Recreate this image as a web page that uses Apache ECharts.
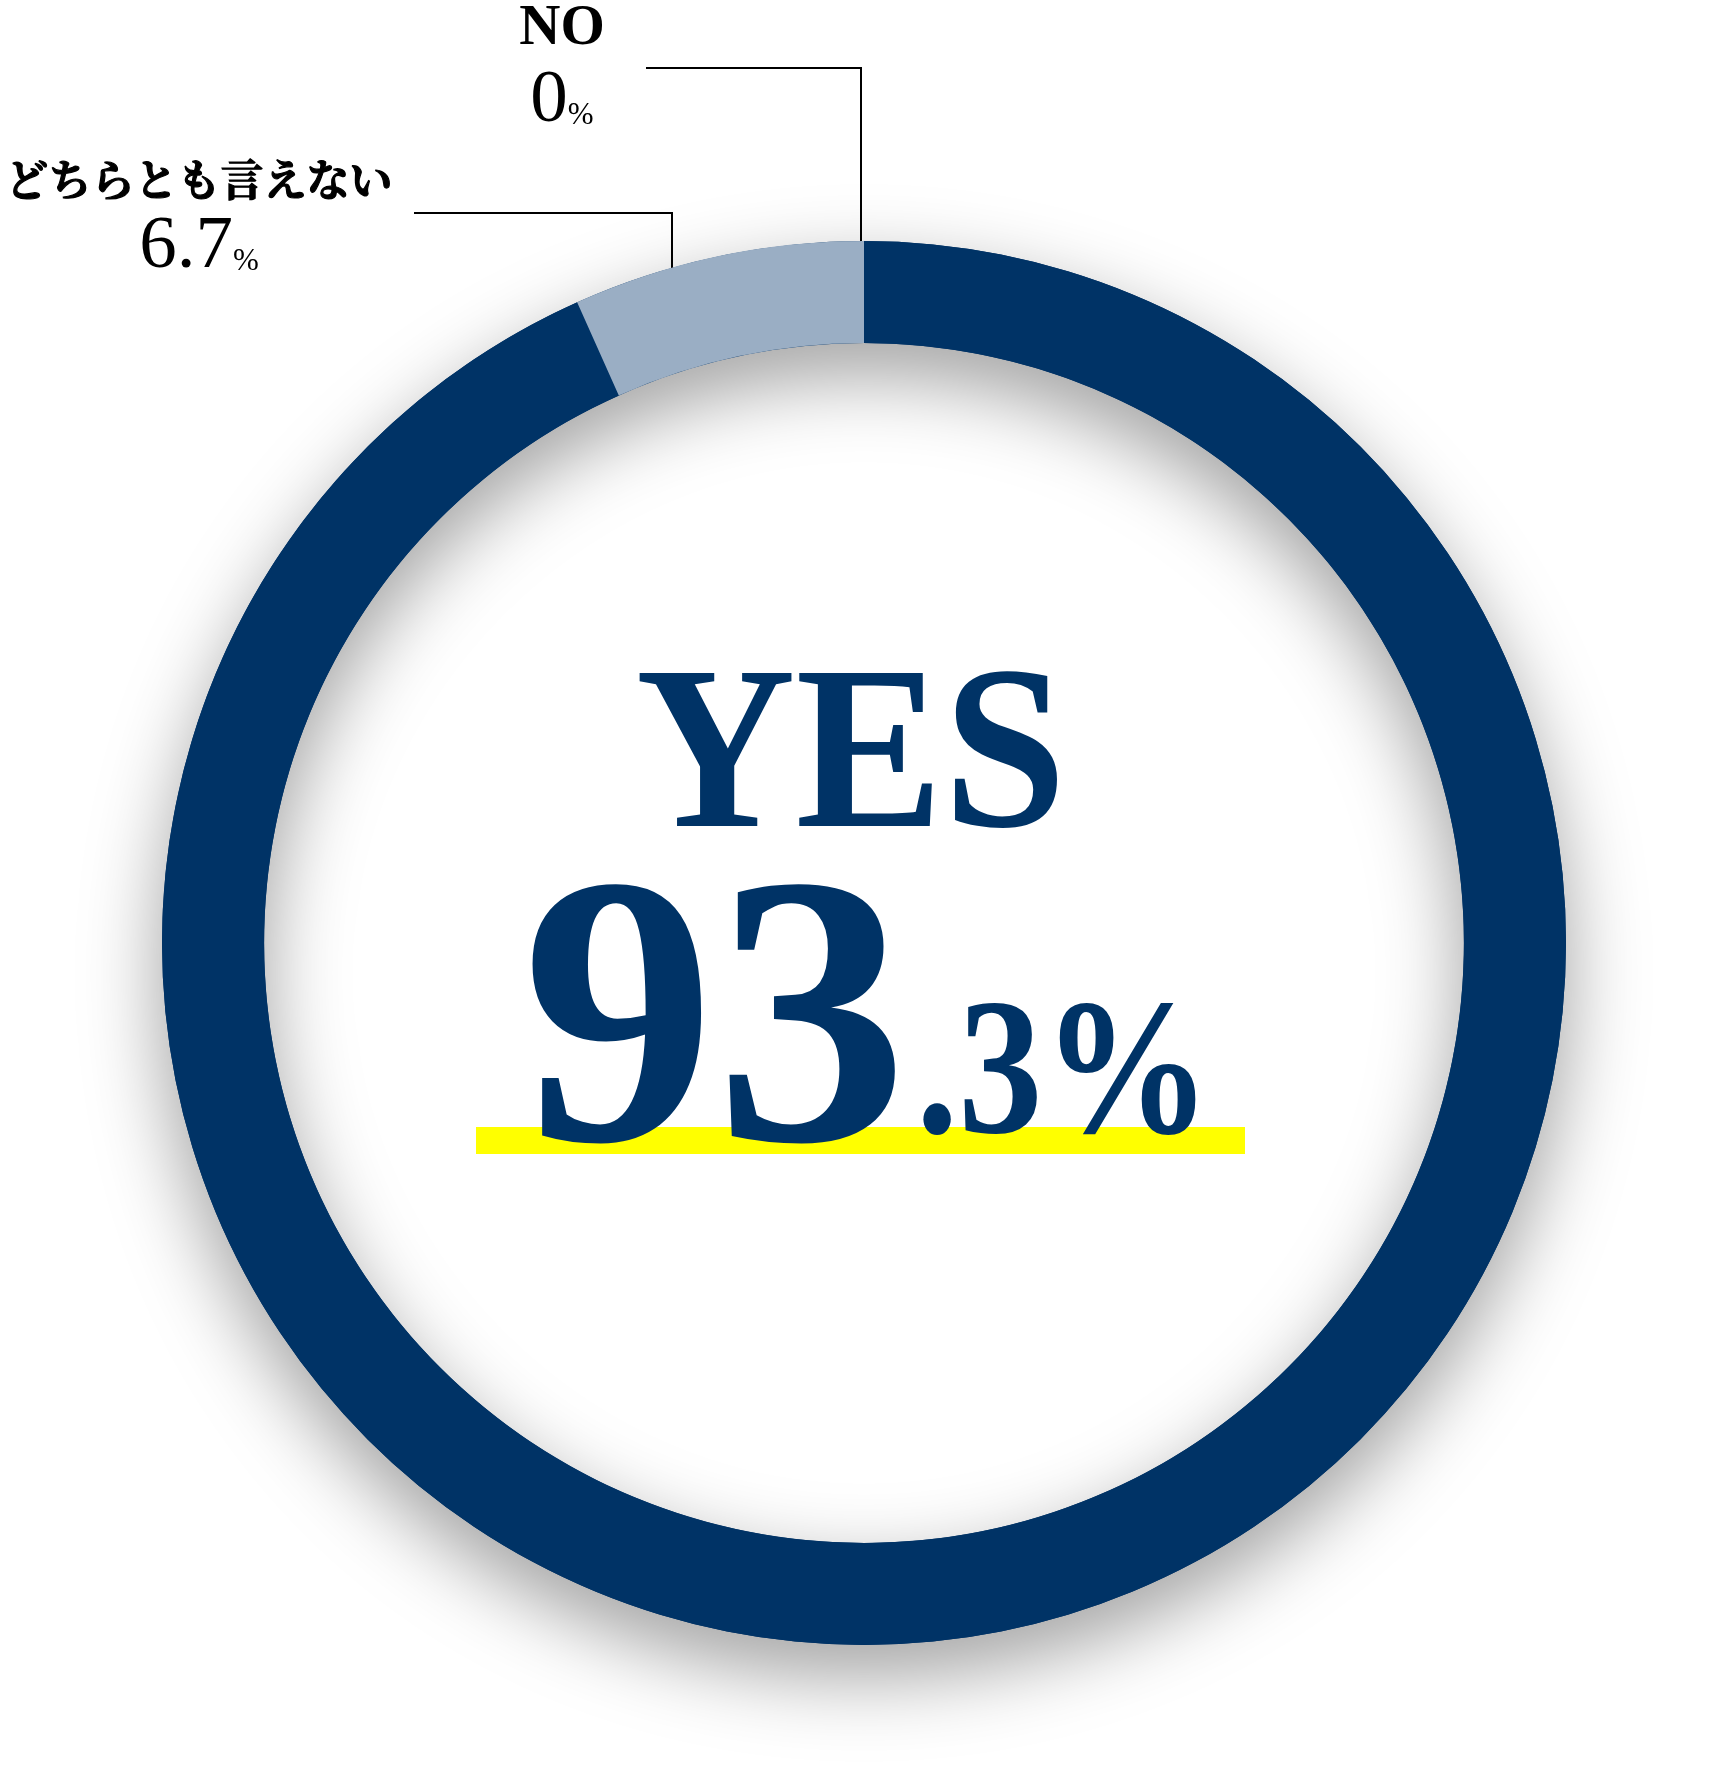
<!DOCTYPE html>
<html><head><meta charset="utf-8">
<script src="https://cdn.jsdelivr.net/npm/echarts@6/dist/echarts.min.js"></script>
<style>html,body{margin:0;padding:0;background:#fff}#c{width:1728px;height:1780px}</style>
</head><body><div id="c"></div>
<script>
// ---- data ----
const categories = ['YES', 'どちらとも言えない', 'NO'];
const values = [93.3, 6.7, 0];
const colors = ['#003366', '#9aaec4', '#9aaec4'];

// ---- layout (px) ----
const CX = 864, CY = 943, R0 = 600, R1 = 702;
const labelAnchors = {
  1: { x: 199, y: 221, line: [[672, 318], [672, 213], [414, 213]] },
  2: { x: 562, y: 70, line: [[861, 275], [861, 68], [646, 68]] }
};
const NAVY = '#003366';
const SERIF = '"Liberation Serif"';
const JSERIF = '"Noto Serif CJK JP"';

const chart = echarts.init(document.getElementById('c'), null, { renderer: 'canvas' });

const yesStr = String(values[0]);
const yesInt = yesStr.split('.')[0];
const yesDec = yesStr.indexOf('.') >= 0 ? '.' + yesStr.split('.')[1] : '';

const data = categories.map((n, i) => ({
  name: n,
  value: values[i],
  itemStyle: { color: colors[i] },
  label: i === 0 ? { show: false } : undefined,
  labelLine: i === 0 ? { show: false } : undefined
}));

chart.setOption({
  backgroundColor: '#ffffff',
  animation: false,
  series: [
    {
      type: 'pie',
      silent: true,
      center: [CX, CY],
      radius: [R0, R1],
      data: [{ value: 1, name: '' }],
      itemStyle: {
        color: NAVY,
        shadowBlur: 80,
        shadowOffsetY: 30,
        shadowColor: 'rgba(0,0,0,0.38)'
      },
      label: { show: false },
      labelLine: { show: false },
      z: 1
    },
    {
      type: 'pie',
      center: [CX, CY],
      radius: [R0, R1],
      startAngle: 90,
      clockwise: true,
      avoidLabelOverlap: false,
      data: data,
      z: 2,
      label: {
        show: true,
        position: 'outside',
        align: 'center',
        color: '#000',
        formatter: p => {
          const tok = /^[A-Za-z]+$/.test(p.name) ? 'en' : 'ja';
          return '{' + tok + '|' + p.name + '}\n{num|' + p.value + '}{pct|%}';
        },
        rich: {
          en: { fontFamily: SERIF, fontWeight: 'bold', fontSize: 57, lineHeight: 62, color: '#000', align: 'center' },
          ja: { fontFamily: JSERIF, fontWeight: 'bold', fontSize: 43, lineHeight: 53, color: '#000', align: 'center', textBorderColor: '#000', textBorderWidth: 1.2 },
          num: { fontFamily: SERIF, fontSize: 75, lineHeight: 82, color: '#000' },
          pct: { fontFamily: SERIF, fontSize: 31, verticalAlign: 'bottom', padding: [0, 0, 11, 0], color: '#000' }
        }
      },
      labelLine: {
        show: true,
        lineStyle: { color: '#000', width: 2 }
      },
      labelLayout: function (p) {
        const a = labelAnchors[p.dataIndex];
        if (!a) return {};
        return { x: a.x, y: a.y, align: 'center', verticalAlign: 'middle', labelLinePoints: a.line };
      }
    }
  ],
  graphic: [
    { type: 'rect', shape: { x: 476, y: 1127, width: 769, height: 27 }, style: { fill: '#ffff00' }, z: 10 },
    { type: 'text', x: 851, y: 766, scaleX: 0.95, z: 11,
      style: { text: categories[0], font: 'bold 233px ' + SERIF, fill: NAVY, align: 'center', verticalAlign: 'middle' } },
    { type: 'text', x: 908, y: 1040, z: 11,
      style: { text: yesInt, font: 'bold 386px ' + SERIF, fill: NAVY, align: 'right', verticalAlign: 'middle' } },
    { type: 'text', x: 916, y: 1081, scaleX: 0.86, z: 11,
      style: { text: yesDec + '%', font: 'bold 196px ' + SERIF, fill: NAVY, align: 'left', verticalAlign: 'middle' } }
  ]
});
</script>
</body></html>
